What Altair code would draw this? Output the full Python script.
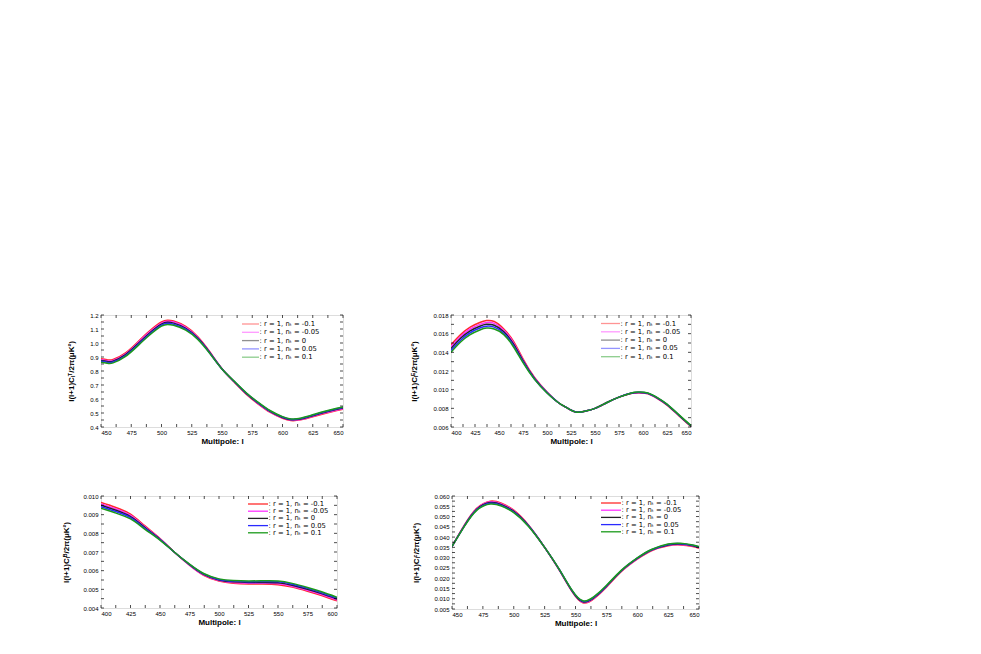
import altair as alt
import pandas as pd

FONT = "Liberation Sans"
LEGFONT = "DejaVu Sans"
SERIES = [": r = 1, nₜ = -0.1", ": r = 1, nₜ = -0.05", ": r = 1, nₜ = 0",
          ": r = 1, nₜ = 0.05", ": r = 1, nₜ = 0.1"]
COLORS = ["#ff2a2a", "#ff33ff", "#222222", "#2a2aff", "#1a9a1a"]

# ---- Panel 1 : TT ----
X1 = [450, 455, 460, 470, 480, 490, 500, 505, 510, 520, 530, 540, 550, 560, 570, 580, 590, 600, 607, 615, 625, 635, 650]
P1_RED = [0.887, 0.880, 0.882, 0.928, 1.004, 1.085, 1.150, 1.163, 1.157, 1.118, 1.045, 0.936, 0.816, 0.722, 0.635, 0.564, 0.504, 0.462, 0.446, 0.451, 0.473, 0.497, 0.527]
P1_MAG = [0.881, 0.874, 0.876, 0.9215, 0.997, 1.0775, 1.1425, 1.1555, 1.1495, 1.1115, 1.040, 0.933, 0.8155, 0.7235, 0.6375, 0.567, 0.507, 0.465, 0.449, 0.454, 0.4765, 0.501, 0.531]
P1_BLK = [0.875, 0.868, 0.870, 0.915, 0.990, 1.070, 1.135, 1.148, 1.142, 1.105, 1.035, 0.930, 0.815, 0.725, 0.640, 0.570, 0.510, 0.468, 0.452, 0.457, 0.480, 0.505, 0.535]
P1_BLU = [0.869, 0.862, 0.864, 0.9085, 0.983, 1.0625, 1.1275, 1.1405, 1.1345, 1.0985, 1.030, 0.927, 0.8145, 0.7265, 0.6425, 0.573, 0.513, 0.471, 0.455, 0.460, 0.4835, 0.509, 0.539]
P1_GRN = [0.863, 0.856, 0.858, 0.902, 0.976, 1.055, 1.120, 1.133, 1.127, 1.092, 1.025, 0.924, 0.814, 0.728, 0.645, 0.576, 0.516, 0.474, 0.458, 0.463, 0.487, 0.513, 0.543]

# ---- Panel 2 : EE ----
X2 = [400, 410, 420, 430, 437, 445, 455, 465, 475, 487, 500, 512, 520, 530, 540, 550, 562, 575, 587, 595, 605, 615, 625, 637, 650]
P2_RED = [0.0148, 0.0159, 0.0167, 0.0172, 0.0174, 0.0173, 0.0165, 0.0152, 0.0133, 0.0113, 0.00975, 0.0086, 0.0081, 0.0076, 0.0077, 0.0080, 0.0086, 0.0092, 0.00958, 0.00966, 0.00955, 0.00905, 0.00835, 0.00725, 0.00605]
P2_MAG = [0.0146, 0.0157, 0.0165, 0.0170, 0.0172, 0.0171, 0.01635, 0.01505, 0.0132, 0.01125, 0.00972, 0.0086, 0.0081, 0.0076, 0.0077, 0.0080, 0.0086, 0.0092, 0.00959, 0.00968, 0.00958, 0.00908, 0.00838, 0.00728, 0.00608]
P2_BLK = [0.0144, 0.0155, 0.0163, 0.0168, 0.0170, 0.0169, 0.0162, 0.0149, 0.0131, 0.0112, 0.0097, 0.0086, 0.0081, 0.0076, 0.0077, 0.0080, 0.0086, 0.0092, 0.0096, 0.0097, 0.0096, 0.0091, 0.0084, 0.0073, 0.0061]
P2_BLU = [0.0142, 0.0153, 0.0161, 0.0166, 0.0168, 0.0167, 0.01605, 0.01475, 0.0130, 0.01115, 0.00968, 0.0086, 0.0081, 0.0076, 0.0077, 0.0080, 0.0086, 0.0092, 0.00961, 0.00972, 0.00962, 0.00912, 0.00842, 0.00732, 0.00612]
P2_GRN = [0.0140, 0.0151, 0.0159, 0.0164, 0.0166, 0.0165, 0.0159, 0.0146, 0.0129, 0.0111, 0.00965, 0.0086, 0.0081, 0.0076, 0.0077, 0.0080, 0.0086, 0.0092, 0.00962, 0.00974, 0.00965, 0.00915, 0.00845, 0.00735, 0.00615]

# ---- Panel 3 : BB ----
X3 = [400, 412, 425, 437, 450, 462, 475, 487, 500, 512, 525, 537, 550, 562, 575, 587, 600]
P3_RED = [0.00965, 0.00940, 0.00903, 0.00841, 0.00772, 0.00700, 0.00629, 0.00575, 0.00544, 0.00533, 0.00529, 0.00528, 0.00525, 0.00512, 0.00490, 0.00467, 0.00438]
P3_MAG = [0.00958, 0.00932, 0.00896, 0.00836, 0.00770, 0.00700, 0.00630, 0.00577, 0.00547, 0.00536, 0.00533, 0.00532, 0.00530, 0.00517, 0.00495, 0.00472, 0.00443]
P3_BLK = [0.00950, 0.00925, 0.00890, 0.00832, 0.00768, 0.00700, 0.00632, 0.00580, 0.00550, 0.00540, 0.00537, 0.00537, 0.00535, 0.00522, 0.00500, 0.00477, 0.00448]
P3_BLU = [0.00942, 0.00918, 0.00884, 0.00828, 0.00766, 0.00700, 0.00634, 0.00583, 0.00553, 0.00544, 0.00541, 0.00542, 0.00540, 0.00527, 0.00505, 0.00482, 0.00453]
P3_GRN = [0.00935, 0.00910, 0.00877, 0.00823, 0.00764, 0.00700, 0.00635, 0.00585, 0.00556, 0.00547, 0.00545, 0.00546, 0.00545, 0.00532, 0.00510, 0.00487, 0.00458]

# ---- Panel 4 : TE ----
X4 = [450, 460, 470, 481, 490, 500, 512, 525, 537, 547, 556, 565, 575, 587, 600, 612, 625, 635, 645, 650]
P4_RED = [0.0355, 0.0458, 0.0540, 0.0575, 0.0565, 0.0531, 0.0458, 0.0350, 0.0238, 0.0137, 0.0080, 0.0100, 0.0156, 0.0232, 0.0293, 0.0335, 0.0358, 0.0362, 0.0354, 0.0346]
P4_MAG = [0.0355, 0.04565, 0.05375, 0.05715, 0.05615, 0.0528, 0.04565, 0.0350, 0.0239, 0.01385, 0.00825, 0.01025, 0.0158, 0.02335, 0.02945, 0.03365, 0.0360, 0.0364, 0.0356, 0.0348]
P4_BLK = [0.0355, 0.0455, 0.0535, 0.0568, 0.0558, 0.0525, 0.0455, 0.0350, 0.0240, 0.0140, 0.0085, 0.0105, 0.0160, 0.0235, 0.0296, 0.0338, 0.0362, 0.0366, 0.0358, 0.0350]
P4_BLU = [0.0355, 0.04535, 0.05325, 0.05645, 0.05545, 0.0522, 0.04535, 0.0350, 0.0241, 0.01415, 0.00875, 0.01075, 0.0162, 0.02365, 0.02975, 0.03395, 0.0364, 0.0368, 0.0360, 0.0352]
P4_GRN = [0.0355, 0.0452, 0.0530, 0.0561, 0.0551, 0.0519, 0.0452, 0.0350, 0.0242, 0.0143, 0.0090, 0.0110, 0.0164, 0.0238, 0.0299, 0.0341, 0.0366, 0.0370, 0.0362, 0.0354]


def steps(a, b, s):
    n = int(round((b - a) / s))
    return [round(a + i * s, 6) for i in range(n + 1)]


def panel(xs, ys_list, xdom, ydom, xstep, ystep, yfmt, ytitle, w, h,
          title_pad, leg_x, leg_y, leg_dy, leg_len, leg_alpha):
    rows = []
    for name, ys in zip(SERIES, ys_list):
        for x, y in zip(xs, ys):
            rows.append({"l": x, "v": y, "s": name})
    df = pd.DataFrame(rows)
    xsc = alt.Scale(domain=xdom, nice=False, zero=False)
    ysc = alt.Scale(domain=ydom, nice=False, zero=False)
    xaxis = alt.Axis(
        values=steps(xdom[0], xdom[1], xstep), format="d", title="Multipole: l",
        ticks=False, domain=False, grid=False, labelFontSize=6, labelPadding=2,
        titleFontSize=8, titleFontWeight="bold", titlePadding=2, labelFont=FONT, titleFont=FONT,
        labelColor="black", titleColor="black")
    yaxis = alt.Axis(
        values=steps(ydom[0], ydom[1], ystep), format=yfmt, title=ytitle,
        ticks=False, domain=False, grid=False, labelFontSize=6, labelPadding=3,
        titleFontSize=8, titleFontWeight="bold", titlePadding=title_pad,
        labelFont=FONT, titleFont=FONT, labelColor="black", titleColor="black")
    lines = alt.Chart(df).mark_line(interpolate="natural", strokeWidth=1.5, clip=True).encode(
        x=alt.X("l:Q", scale=xsc, axis=xaxis),
        y=alt.Y("v:Q", scale=ysc, axis=yaxis),
        color=alt.Color("s:N", scale=alt.Scale(domain=SERIES, range=COLORS), legend=None),
    )
    layers = [lines]
    tx = pd.DataFrame({"l": steps(xdom[0], xdom[1], xstep / 2)})
    ty = pd.DataFrame({"v": steps(ydom[0], ydom[1], ystep / 2)})
    for y0, y1 in [(0, 3), (h, h - 3)]:
        layers.append(alt.Chart(tx).mark_rule(color="black", strokeWidth=0.7).encode(
            x=alt.X("l:Q", scale=xsc, axis=xaxis), y=alt.value(y0), y2=alt.value(y1)))
    for x0, x1 in [(0, 3), (w, w - 3)]:
        layers.append(alt.Chart(ty).mark_rule(color="black", strokeWidth=0.7).encode(
            y=alt.Y("v:Q", scale=ysc, axis=yaxis), x=alt.value(x0), x2=alt.value(x1)))
    dummy = pd.DataFrame({"a": [0]})
    for i, (name, col) in enumerate(zip(SERIES, COLORS)):
        yy = leg_y + i * leg_dy
        layers.append(alt.Chart(dummy).mark_rule(color=col, strokeWidth=1.3, opacity=leg_alpha).encode(
            x=alt.value(leg_x), x2=alt.value(leg_x + leg_len), y=alt.value(yy)))
        layers.append(alt.Chart(dummy).mark_text(align="left", baseline="middle", fontSize=6.8,
                                                 font=LEGFONT, color="black").encode(
            x=alt.value(leg_x + leg_len + 0.5), y=alt.value(yy), text=alt.value(name)))
    return alt.layer(*layers).properties(width=w, height=h)


p1 = panel(X1, [P1_RED, P1_MAG, P1_BLK, P1_BLU, P1_GRN], [450, 650], [0.4, 1.2], 25, 0.1, ".1f",
           "l(l+1)Cₗᵀ/2π(μK²)", 242, 112, 14, 141, 9, 8.3, 17, 0.5)
p2 = panel(X2, [P2_RED, P2_MAG, P2_BLK, P2_BLU, P2_GRN], [400, 650], [0.006, 0.018], 25, 0.002, ".3f",
           "l(l+1)Cₗᴱ/2π(μK²)", 240, 112, 14, 150, 8.5, 8.3, 19, 0.5)
p3 = panel(X3, [P3_RED, P3_MAG, P3_BLK, P3_BLU, P3_GRN], [400, 600], [0.004, 0.010], 25, 0.001, ".3f",
           "l(l+1)Cₗᴮ/2π(μK²)", 236, 112, 12, 147, 8, 7.2, 20, 1.0)
p4 = panel(X4, [P4_RED, P4_MAG, P4_BLK, P4_BLU, P4_GRN], [450, 650], [0.005, 0.060], 25, 0.005, ".3f",
           "l(l+1)Cₗᶜ/2π(μK²)", 247, 113, 13, 149, 7, 7.2, 20, 1.0)

row1 = alt.hconcat(p1, p2, spacing=66).resolve_scale(x="independent", y="independent")
row2 = alt.hconcat(p3, p4, spacing=74).resolve_scale(x="independent", y="independent")
chart = alt.vconcat(row1, row2, spacing=46).resolve_scale(
    x="independent", y="independent"
).properties(
    padding={"left": 54, "top": 303, "right": 5, "bottom": 5}
).configure_view(stroke="black", strokeWidth=1).configure(background="white")

chart.save("out.html", embed_options={"renderer": "svg", "actions": False})
